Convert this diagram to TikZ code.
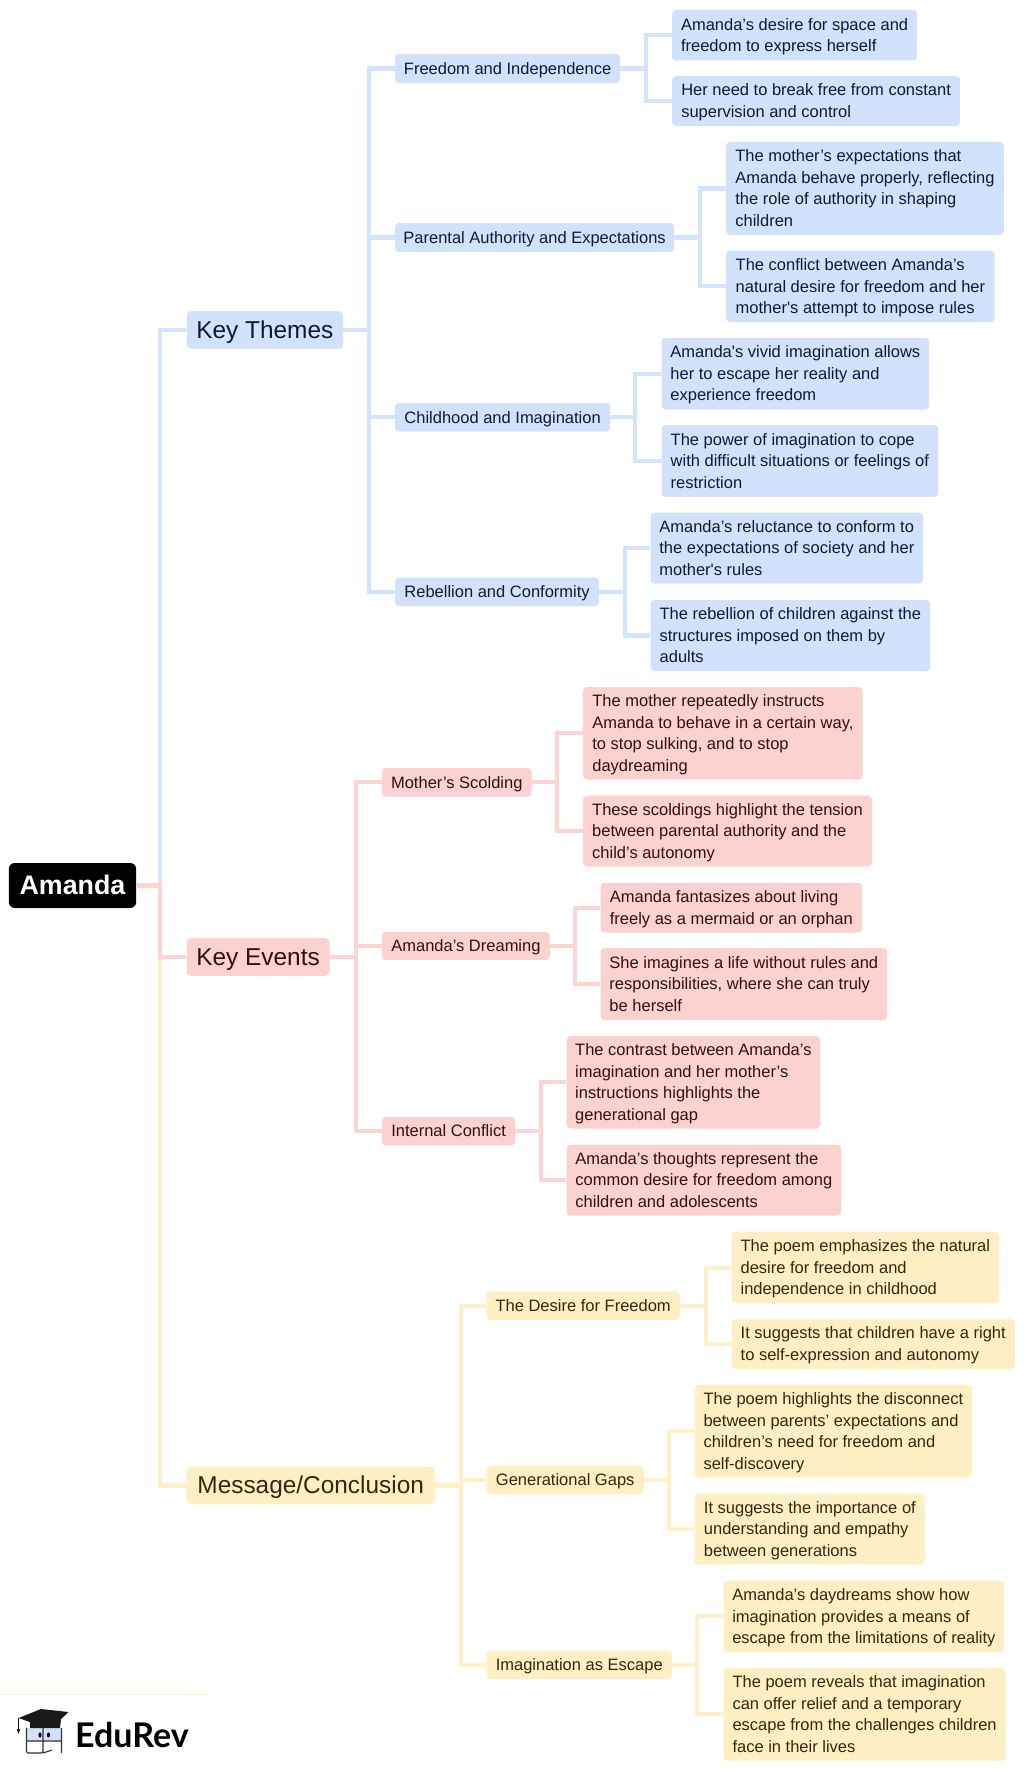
\documentclass[tikz,border=0pt]{standalone}
\usepackage{fontspec}
\setmainfont[Ligatures=TeXOff]{Liberation Sans}
\newfontfamily\logofont{Lato}
\definecolor{bfill}{HTML}{D2E2FD}
\definecolor{bline}{HTML}{D4E3FE}
\definecolor{btext}{HTML}{101A30}
\definecolor{rfill}{HTML}{FBD2CF}
\definecolor{rline}{HTML}{FDD4D1}
\definecolor{rtext}{HTML}{331010}
\definecolor{yfill}{HTML}{FFEFC5}
\definecolor{yline}{HTML}{FFF0C8}
\definecolor{ytext}{HTML}{33280C}
\tikzset{
  base/.style={rounded corners=4pt,inner sep=0pt,align=left},
  small/.style={base,font=\fontsize{16.5pt}{21.5pt}\selectfont},
  big/.style={base,rounded corners=5pt,font=\fontsize{24.4pt}{29pt}\selectfont},
  bb/.style={fill=bfill,text=btext},
  rr/.style={fill=rfill,text=rtext},
  yy/.style={fill=yfill,text=ytext},
  rootbox/.style={base,rounded corners=6pt,fill=black,text=white,font=\fontsize{26.8pt}{30pt}\selectfont\bfseries},
  bcon/.style={draw=bline,line width=4.1pt},
  rcon/.style={draw=rline,line width=4.1pt},
  ycon/.style={draw=yline,line width=4.1pt},
}
\newcommand\nd[7]{%
  \pgfmathsetmacro\cxx{(#3+#5)/2+0.85}\pgfmathsetmacro\cyy{(#4+#6)/2}%
  \pgfmathsetmacro\bw{#5-#3+0.7}\pgfmathsetmacro\bh{#6-#4}%
  \node[#2,minimum width=\bw pt,minimum height=\bh pt] (#1) at (\cxx,\cyy) {\rule{0pt}{.905em}#7\rule[-.212em]{0pt}{.212em}};}
\newcommand\cn[4]{\draw[#1] (#2.east) -- ++(#4,0) |- (#3.west);}
\begin{document}
\begin{tikzpicture}[x=1pt,y=-1pt]
\useasboundingbox (0,0) rectangle (1024,1771);
% root and first level
\nd{root}{rootbox}{8.3}{863}{135}{908}{Amanda}
\nd{kt}{big,bb}{186}{311}{342}{349}{Key Themes}
\nd{ke}{big,rr}{186}{938}{328.5}{976}{Key Events}
\nd{mc}{big,yy}{186}{1466.6}{433.7}{1504.4}{Message/Conclusion}
% Key Themes
\nd{fi}{small,bb}{394.5}{54}{619}{83}{Freedom and Independence}
\nd{fia}{small,bb}{671.5}{10}{916}{60.5}{Amanda’s desire for space and\\freedom to express herself}
\nd{fib}{small,bb}{671.5}{76}{959}{126}{Her need to break free from constant\\supervision and control}
\nd{pa}{small,bb}{394.5}{223}{673}{252}{Parental Authority and Expectations}
\nd{paa}{small,bb}{725.7}{142}{1002.6}{235}{The mother’s expectations that\\Amanda behave properly, reflecting\\the role of authority in shaping\\children}
\nd{pab}{small,bb}{725.7}{250.7}{993.5}{322}{The conflict between Amanda’s\\natural desire for freedom and her\\mother's attempt to impose rules}
\nd{ch}{small,bb}{394.5}{403}{609}{431.7}{Childhood and Imagination}
\nd{cha}{small,bb}{661}{338}{928}{409.5}{Amanda's vivid imagination allows\\her to escape her reality and\\experience freedom}
\nd{chb}{small,bb}{661}{425}{937}{497}{The power of imagination to cope\\with difficult situations or feelings of\\restriction}
\nd{re}{small,bb}{394.5}{577.5}{598}{606}{Rebellion and Conformity}
\nd{rea}{small,bb}{650}{512.5}{922}{583.6}{Amanda’s reluctance to conform to\\the expectations of society and her\\mother's rules}
\nd{reb}{small,bb}{650}{600}{929}{671}{The rebellion of children against the\\structures imposed on them by\\adults}
% Key Events
\nd{ms}{small,rr}{381.5}{768}{530.4}{796.7}{Mother’s Scolding}
\nd{msa}{small,rr}{582.6}{687}{861.5}{779.5}{The mother repeatedly instructs\\Amanda to behave in a certain way,\\to stop sulking, and to stop\\daydreaming}
\nd{msb}{small,rr}{582.6}{795.6}{870.7}{866.7}{These scoldings highlight the tension\\between parental authority and the\\child’s autonomy}
\nd{ad}{small,rr}{381.5}{931.8}{548.7}{960}{Amanda’s Dreaming}
\nd{ada}{small,rr}{600}{882.8}{861}{932.6}{Amanda fantasizes about living\\freely as a mermaid or an orphan}
\nd{adb}{small,rr}{600}{948}{886}{1020}{She imagines a life without rules and\\responsibilities, where she can truly\\be herself}
\nd{ic}{small,rr}{381.5}{1117}{514}{1145.4}{Internal Conflict}
\nd{ica}{small,rr}{566}{1036}{819}{1128.5}{The contrast between Amanda’s\\imagination and her mother’s\\instructions highlights the\\generational gap}
\nd{icb}{small,rr}{566}{1144.6}{840}{1215.7}{Amanda’s thoughts represent the\\common desire for freedom among\\children and adolescents}
% Message
\nd{df}{small,yy}{486}{1291.4}{678.6}{1320}{The Desire for Freedom}
\nd{dfa}{small,yy}{731}{1231.7}{998}{1303.4}{The poem emphasizes the natural\\desire for freedom and\\independence in childhood}
\nd{dfb}{small,yy}{731}{1319}{1013.7}{1369}{It suggests that children have a right\\to self-expression and autonomy}
\nd{gg}{small,yy}{486}{1465.8}{642.7}{1494}{Generational Gaps}
\nd{gga}{small,yy}{694}{1384.6}{971}{1477.5}{The poem highlights the disconnect\\between parents’ expectations and\\children’s need for freedom and\\self-discovery}
\nd{ggb}{small,yy}{694}{1493.5}{924}{1564.5}{It suggests the importance of\\understanding and empathy\\between generations}
\nd{ie}{small,yy}{486}{1650.8}{670.8}{1679}{Imagination as Escape}
\nd{iea}{small,yy}{723}{1580.6}{1003}{1652}{Amanda’s daydreams show how\\imagination provides a means of\\escape from the limitations of reality}
\nd{ieb}{small,yy}{723}{1668}{1004.5}{1760.8}{The poem reveals that imagination\\can offer relief and a temporary\\escape from the challenges children\\face in their lives}
% connectors
\cn{bcon}{root}{kt}{24}
\cn{ycon}{root}{mc}{24}
\cn{rcon}{root}{ke}{24}
\cn{bcon}{kt}{fi}{26}\cn{bcon}{kt}{pa}{26}\cn{bcon}{kt}{ch}{26}\cn{bcon}{kt}{re}{26}
\cn{bcon}{fi}{fia}{25.5}\cn{bcon}{fi}{fib}{25.5}
\cn{bcon}{pa}{paa}{26}\cn{bcon}{pa}{pab}{26}
\cn{bcon}{ch}{cha}{25}\cn{bcon}{ch}{chb}{25}
\cn{bcon}{re}{rea}{25.5}\cn{bcon}{re}{reb}{25.5}
\cn{rcon}{ke}{ms}{26.5}\cn{rcon}{ke}{ad}{26.5}\cn{rcon}{ke}{ic}{26.5}
\cn{rcon}{ms}{msa}{25.6}\cn{rcon}{ms}{msb}{25.6}
\cn{rcon}{ad}{ada}{25}\cn{rcon}{ad}{adb}{25}
\cn{rcon}{ic}{ica}{25.5}\cn{rcon}{ic}{icb}{25.5}
\cn{ycon}{mc}{df}{26}\cn{ycon}{mc}{gg}{26}\cn{ycon}{mc}{ie}{26}
\cn{ycon}{df}{dfa}{25.8}\cn{ycon}{df}{dfb}{25.8}
\cn{ycon}{gg}{gga}{25}\cn{ycon}{gg}{ggb}{25}
\cn{ycon}{ie}{iea}{25}\cn{ycon}{ie}{ieb}{25}
% logo
\draw[yline,line width=0.6pt] (2,1694.5) -- (207,1694.5);
\node[anchor=base west,inner sep=0pt,text=black,font=\fontsize{34pt}{36pt}\logofont\bfseries] (logo) at (75,1747) {EduRev};
\fill[bfill,rounded corners=1.5pt] (26,1728) rectangle (62,1741);
\draw[black!80,line width=1.1pt,rounded corners=2pt] (26.5,1728) -- (26.5,1753) -- (43,1753) -- (43,1728) (61.5,1728) -- (61.5,1753) (26.5,1741) -- (61.5,1741) (43,1753) -- (52,1750);
\fill[black] (40,1735) ellipse (1.6 and 2.6) (48.5,1735) ellipse (1.6 and 2.6);
\fill[black!90] (18.5,1718) -- (41,1709) -- (68.5,1712) -- (61,1719) -- (60,1728) -- (30,1728) -- (30,1722) -- cycle;
\draw[black!90,line width=0.9pt] (18.5,1718) -- (18.5,1730);
\fill[black!90] (18.5,1734) -- (16.8,1729) -- (20.2,1729) -- cycle;
\end{tikzpicture}
\end{document}
